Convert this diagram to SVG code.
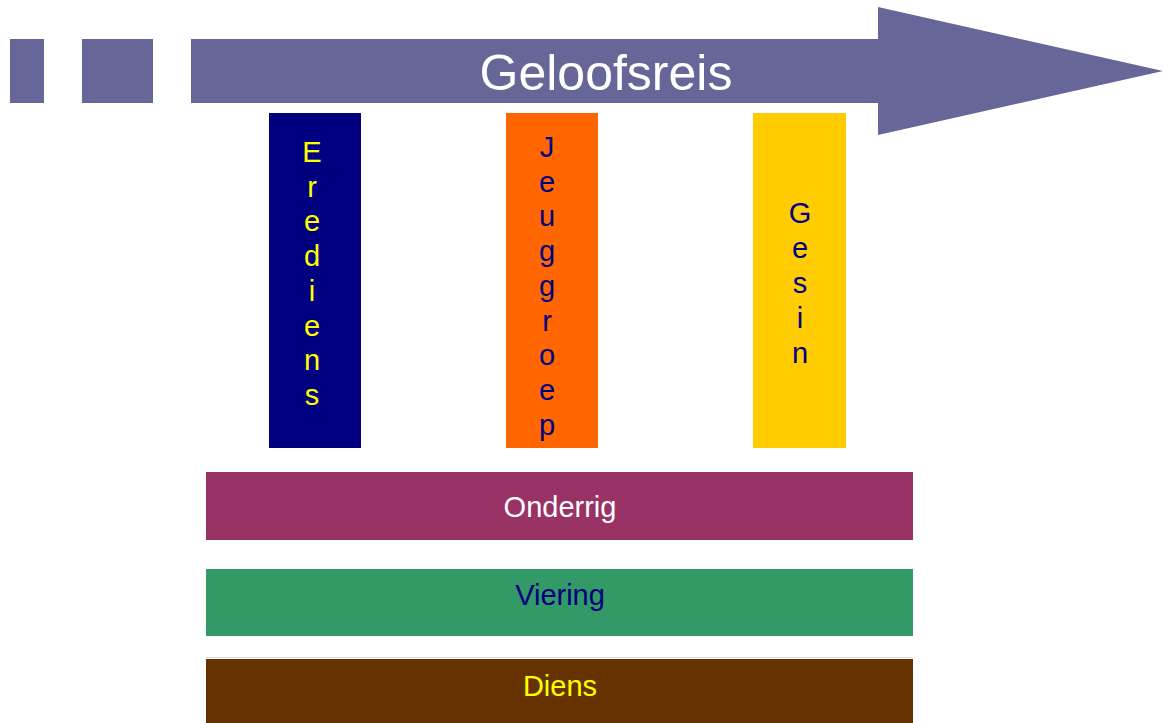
<svg xmlns="http://www.w3.org/2000/svg" width="1163" height="723" viewBox="0 0 1163 723">
<style>
text{font-family:"Liberation Sans",Arial,sans-serif;font-size:29px;text-anchor:middle}
.arrow{fill:#666699}
.y{fill:#FFFF00}.n{fill:#000080}.w{fill:#FFFFFF}
</style>
<rect width="1163" height="723" fill="#FFFFFF"/>
<g id="arrow">
<rect class="arrow" x="10" y="39" width="34" height="64"/>
<rect class="arrow" x="82" y="39" width="71" height="64"/>
<polygon class="arrow" points="191,39 878,39 878,7 1163,71 878,135 878,103 191,103"/>
<text class="w" x="606" y="90" style="font-size:50px">Geloofsreis</text>
</g>
<g id="eredienst">
<rect x="269" y="113" width="92" height="335" fill="#000080"/>
<text class="y" x="312" y="162">E</text>
<text class="y" x="312" y="196.7">r</text>
<text class="y" x="312" y="231.4">e</text>
<text class="y" x="312" y="266.1">d</text>
<text class="y" x="312" y="300.8">i</text>
<text class="y" x="312" y="335.5">e</text>
<text class="y" x="312" y="370.2">n</text>
<text class="y" x="312" y="404.9">s</text>
</g>
<g id="jeuggroep">
<rect x="506" y="113" width="92" height="335" fill="#FF6600"/>
<text class="n" x="547" y="157">J</text>
<text class="n" x="547" y="191.7">e</text>
<text class="n" x="547" y="226.4">u</text>
<text class="n" x="547" y="261.1">g</text>
<text class="n" x="547" y="295.8">g</text>
<text class="n" x="547" y="330.5">r</text>
<text class="n" x="547" y="365.2">o</text>
<text class="n" x="547" y="399.9">e</text>
<text class="n" x="547" y="434.6">p</text>
</g>
<g id="gesin">
<rect x="753" y="113" width="93" height="335" fill="#FFCC00"/>
<text class="n" x="800" y="223">G</text>
<text class="n" x="800" y="258">e</text>
<text class="n" x="800" y="293">s</text>
<text class="n" x="800" y="328">i</text>
<text class="n" x="800" y="363">n</text>
</g>
<g id="onderrig">
<rect x="206" y="472" width="707" height="68" fill="#993366"/>
<text class="w" x="560" y="517">Onderrig</text>
</g>
<g id="viering">
<rect x="206" y="569" width="707" height="67" fill="#339966"/>
<text class="n" x="560" y="605">Viering</text>
</g>
<g id="diens">
<line x1="206" y1="657.5" x2="913" y2="657.5" stroke="#DDDDDD" stroke-width="1"/>
<rect x="206" y="659" width="707" height="64" fill="#663300"/>
<text class="y" x="560" y="696">Diens</text>
</g>
<g id="connectors"/>
</svg>
